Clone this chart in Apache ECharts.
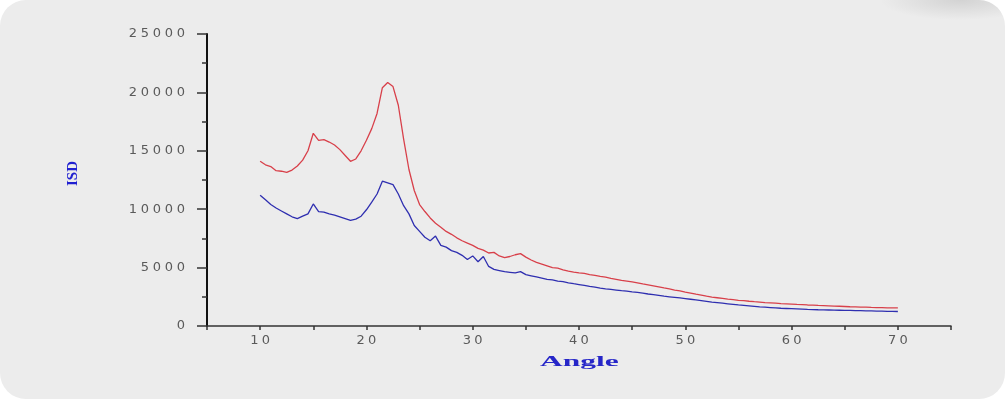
<!DOCTYPE html>
<html>
<head>
<meta charset="utf-8">
<script src="https://cdn.jsdelivr.net/npm/echarts@6/dist/echarts.min.js"></script>
<style>
  html, body { margin: 0; padding: 0; background: #ffffff; }
  #panel {
    position: relative; width: 1005px; height: 399px;
    background: #ececec; border-radius: 26px; overflow: hidden;
  }
  #shade {
    position: absolute; right: 0; top: 0; width: 150px; height: 26px;
    background: radial-gradient(ellipse 80px 20px at 70% 0%, rgba(190,190,190,0.55), rgba(236,236,236,0));
  }
  #chart { position: absolute; left: 0; top: 0; width: 1005px; height: 399px; }
</style>
</head>
<body>
<div id="panel"><div id="shade"></div><div id="chart"></div></div>
<script>
// Diffraction angle (degrees), sampled every 0.5
const angles = [];
for (let a = 10; a <= 70.001; a += 0.5) angles.push(+a.toFixed(1));

// Upper trace (red)
const redISD = [
  14100, 13800, 13650, 13300, 13250, 13150, 13350, 13700, 14200, 15000,
  16500, 15900, 15950, 15750, 15500, 15100, 14600, 14100, 14300, 15000,
  15900, 16900, 18200, 20400, 20850, 20500, 18900, 16000, 13400, 11600,
  10400, 9800, 9250, 8800, 8450, 8100, 7850, 7550, 7300, 7100,
  6900, 6650, 6500, 6250, 6300, 6000, 5850, 5950, 6100, 6200,
  5900, 5650, 5450, 5300, 5150, 5000, 4950, 4800, 4700, 4620,
  4550, 4500, 4400, 4330, 4250, 4180, 4080, 4000, 3900, 3850,
  3780, 3700, 3600, 3520, 3440, 3350, 3260, 3180, 3080, 3000,
  2900, 2820, 2720, 2650, 2560, 2480, 2420, 2360, 2300, 2250,
  2200, 2170, 2120, 2080, 2050, 2000, 1980, 1950, 1920, 1900,
  1880, 1850, 1830, 1800, 1790, 1760, 1740, 1720, 1700, 1690,
  1670, 1650, 1640, 1620, 1610, 1590, 1580, 1570, 1560, 1550,
  1560
];

// Lower trace (blue)
const blueISD = [
  11200, 10800, 10400, 10100, 9850, 9600, 9350, 9200, 9400, 9600,
  10450, 9800, 9750, 9600, 9500, 9350, 9200, 9050, 9150, 9400,
  9950, 10600, 11300, 12400, 12250, 12100, 11300, 10300, 9600, 8600,
  8100, 7600, 7300, 7700, 6900, 6750, 6450, 6300, 6050, 5700,
  6000, 5500, 5950, 5100, 4850, 4750, 4650, 4600, 4550, 4650,
  4400, 4300, 4200, 4100, 4000, 3950, 3850, 3800, 3700, 3620,
  3550, 3480, 3400, 3330, 3250, 3180, 3130, 3080, 3020, 2980,
  2920, 2870, 2810, 2740, 2680, 2620, 2550, 2500, 2450, 2400,
  2350, 2290, 2230, 2170, 2110, 2050, 2000, 1950, 1900, 1850,
  1800, 1760, 1720, 1680, 1640, 1610, 1580, 1550, 1520, 1500,
  1480, 1460, 1440, 1420, 1410, 1390, 1380, 1370, 1360, 1350,
  1340, 1330, 1320, 1310, 1300, 1290, 1280, 1270, 1260, 1250,
  1240
];

const xLabelValues = [10, 20, 30, 40, 50, 60, 70];
const yLabelValues = [0, 5000, 10000, 15000, 20000, 25000];

const pair = (ys) => angles.map((a, i) => [a, ys[i]]);

// Wide-set digits: each character sits in its own fixed-width cell
const spaced = (s) => s.split('').map((c) => '{d|' + c + '}').join('');
const digitStyle = (w) => ({
  d: { width: w, align: 'center', color: '#5a5a5a', fontFamily: 'DejaVu Sans', fontSize: 13 }
});

const chart = echarts.init(document.getElementById('chart'), null, { renderer: 'canvas' });
chart.setOption({
  backgroundColor: 'transparent',
  animation: false,
  grid: { left: 207, right: 54, top: 34, bottom: 73, containLabel: false },
  xAxis: {
    type: 'value', min: 5, max: 75, interval: 5,
    axisLine: { show: true, lineStyle: { color: '#333', width: 1.5 } },
    axisTick: { show: true, inside: false, length: 4, lineStyle: { color: '#333', width: 1.5 } },
    axisLabel: {
      margin: 8, color: '#5a5a5a', fontFamily: 'DejaVu Sans', fontSize: 13,
      formatter: (v) => (xLabelValues.includes(v) ? spaced(String(v)) : ''),
      rich: digitStyle(11.5)
    },
    splitLine: { show: false }
  },
  yAxis: {
    type: 'value', min: 0, max: 25000, interval: 5000,
    axisLine: { show: true, lineStyle: { color: '#111', width: 2 } },
    axisTick: { show: true, length: 10, lineStyle: { color: '#333', width: 1.5 } },
    minorTick: { show: true, splitNumber: 2, length: 5, lineStyle: { color: '#333', width: 1.5 } },
    axisLabel: {
      margin: 20, color: '#5a5a5a', fontFamily: 'DejaVu Sans', fontSize: 13,
      formatter: (v) => (yLabelValues.includes(v) ? spaced(String(v)) : ''),
      rich: digitStyle(12)
    },
    splitLine: { show: false }
  },
  graphic: [
    {
      type: 'text', x: 540, y: 355,
      style: { text: 'Angle', fill: '#2626c8', font: 'bold 15px "Liberation Serif"' },
      scaleX: 2.1
    },
    {
      type: 'text', x: 66, y: 186, rotation: Math.PI / 2,
      style: { text: 'ISD', fill: '#2020d0', font: 'bold 15px "Liberation Serif"' }
    }
  ],
  series: [
    {
      name: 'red', type: 'line', data: pair(redISD), showSymbol: false, symbol: 'none',
      lineStyle: { color: '#d8404a', width: 1.3 }, z: 3
    },
    {
      name: 'blue', type: 'line', data: pair(blueISD), showSymbol: false, symbol: 'none',
      lineStyle: { color: '#2f2fb0', width: 1.3 }, z: 2
    }
  ]
});
</script>
</body>
</html>
